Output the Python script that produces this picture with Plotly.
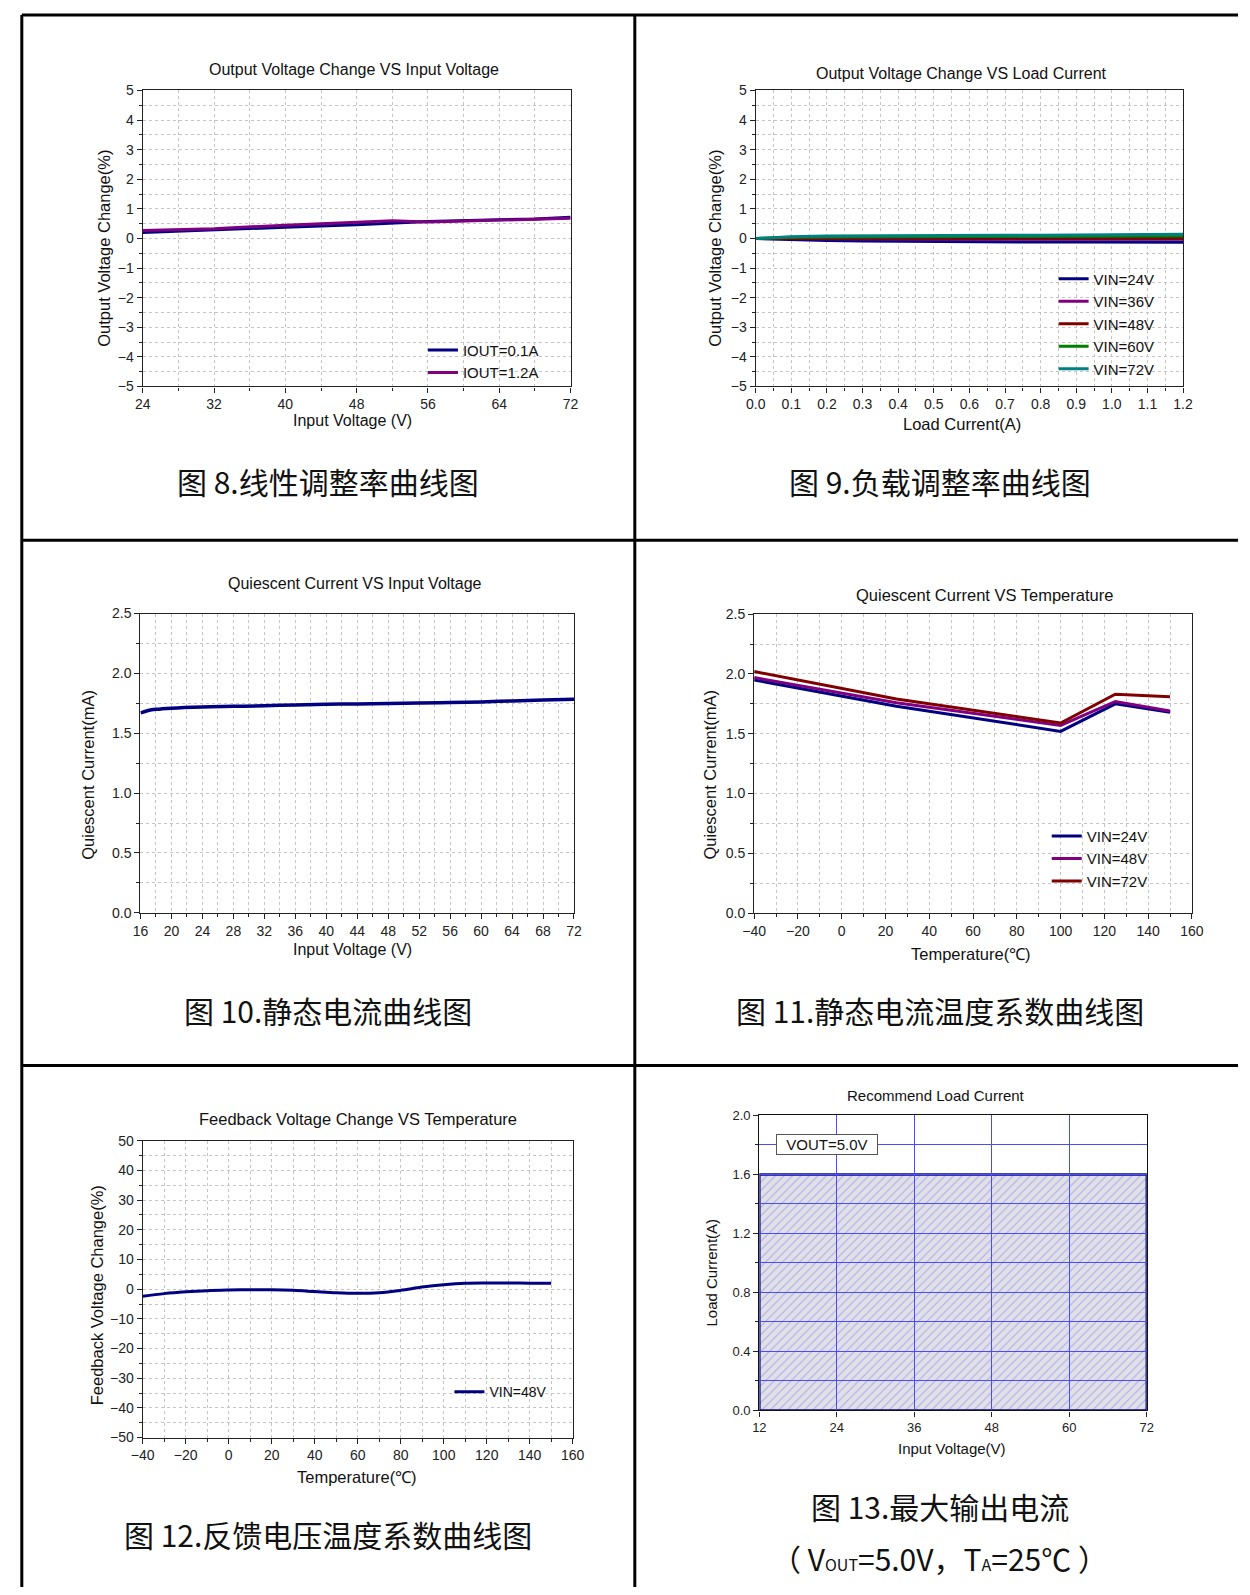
import plotly.graph_objects as go

W, H = 1250, 1595

# ---------------- data ----------------
# Fig 8: line regulation
vin_line = [24, 32, 40, 48, 52, 56, 64, 68, 72]
line_iout_01 = [0.20, 0.30, 0.38, 0.46, 0.52, 0.57, 0.63, 0.66, 0.72]
line_iout_12 = [0.27, 0.33, 0.45, 0.55, 0.60, 0.56, 0.63, 0.64, 0.68]

# Fig 9: load regulation
load_a = [0, 0.1, 0.2, 0.3, 0.4, 0.5, 0.6, 0.7, 0.8, 0.9, 1.0, 1.1, 1.2]
load_vin24 = [0, -0.04, -0.07, -0.09, -0.10, -0.11, -0.12, -0.12, -0.12, -0.12, -0.12, -0.12, -0.13]
load_vin36 = [0, -0.01, -0.02, -0.03, -0.03, -0.03, -0.03, -0.03, -0.03, -0.03, -0.03, -0.03, -0.03]
load_vin48 = [0, 0.00, 0.00, 0.01, 0.01, 0.01, 0.01, 0.01, 0.01, 0.01, 0.01, 0.01, 0.01]
load_vin60 = [0, 0.04, 0.05, 0.06, 0.06, 0.06, 0.07, 0.07, 0.07, 0.07, 0.08, 0.08, 0.08]
load_vin72 = [0, 0.06, 0.08, 0.09, 0.10, 0.10, 0.10, 0.11, 0.11, 0.12, 0.12, 0.13, 0.14]

# Fig 10: quiescent current vs input voltage
vin_iq = [16, 17, 18, 20, 24, 28, 32, 36, 40, 44, 48, 52, 56, 60, 64, 68, 72]
iq_vin = [1.67, 1.69, 1.70, 1.71, 1.72, 1.725, 1.73, 1.737, 1.742, 1.745, 1.749, 1.752, 1.757, 1.762, 1.77, 1.777, 1.785]

# Fig 11: quiescent current vs temperature
temp_iq = [-40, 25, 100, 125, 150]
iq_t_vin24 = [1.95, 1.73, 1.52, 1.75, 1.68]
iq_t_vin48 = [1.97, 1.76, 1.57, 1.77, 1.69]
iq_t_vin72 = [2.02, 1.79, 1.59, 1.83, 1.81]

# Fig 12: feedback voltage vs temperature
temp_fb = [-40, -30, -20, -10, 0, 10, 20, 30, 40, 50, 60, 70, 80, 90, 100, 110, 120, 130, 140, 150]
fb_vin48 = [-2.4, -1.5, -0.9, -0.5, -0.3, -0.2, -0.2, -0.4, -0.8, -1.2, -1.4, -1.2, -0.4, 0.7, 1.5, 2.0, 2.1, 2.1, 2.0, 2.0]

# Fig 13: recommended load current
rec_vin = [12, 72]
rec_iout_max = 1.6

NAVY = "#000080"
PURPLE = "#800080"
DRED = "#800000"
GREEN = "#008000"
TEAL = "#008080"

FONT = "Liberation Sans, Arial, sans-serif"
CJK = "Noto Sans CJK SC, sans-serif"


def px(x):
    return x / W


def py(y):
    return 1 - y / H


fig = go.Figure()

# ---------- traces ----------
fig.add_trace(go.Scatter(x=vin_line, y=line_iout_01, mode="lines", name="IOUT=0.1A",
                         line=dict(color=NAVY, width=3), xaxis="x", yaxis="y", legend="legend"))
fig.add_trace(go.Scatter(x=vin_line, y=line_iout_12, mode="lines", name="IOUT=1.2A",
                         line=dict(color=PURPLE, width=3), xaxis="x", yaxis="y", legend="legend"))

for name, ys, c in [("VIN=24V", load_vin24, NAVY), ("VIN=36V", load_vin36, PURPLE),
                    ("VIN=48V", load_vin48, DRED), ("VIN=60V", load_vin60, GREEN),
                    ("VIN=72V", load_vin72, TEAL)]:
    fig.add_trace(go.Scatter(x=load_a, y=ys, mode="lines", name=name,
                             line=dict(color=c, width=3), xaxis="x2", yaxis="y2", legend="legend2"))

fig.add_trace(go.Scatter(x=vin_iq, y=iq_vin, mode="lines", line=dict(color=NAVY, width=3.5, shape="spline"),
                         showlegend=False, xaxis="x3", yaxis="y3"))

for name, ys, c in [("VIN=24V", iq_t_vin24, NAVY), ("VIN=48V", iq_t_vin48, PURPLE),
                    ("VIN=72V", iq_t_vin72, DRED)]:
    fig.add_trace(go.Scatter(x=temp_iq, y=ys, mode="lines", name=name,
                             line=dict(color=c, width=3), xaxis="x4", yaxis="y4", legend="legend3"))

fig.add_trace(go.Scatter(x=temp_fb, y=fb_vin48, mode="lines", name="VIN=48V",
                         line=dict(color=NAVY, width=3, shape="spline"), xaxis="x5", yaxis="y5",
                         legend="legend4"))

poly_x = [rec_vin[0], rec_vin[0], rec_vin[1], rec_vin[1], rec_vin[0]]
poly_y = [0, rec_iout_max, rec_iout_max, 0, 0]
fig.add_trace(go.Scatter(x=poly_x, y=poly_y, mode="lines", fill="toself",
                         fillcolor="rgba(222,222,230,1)",
                         fillpattern=dict(shape="/", fgcolor="#7272f2",
                                          bgcolor="#e0e0e6", size=6, solidity=0.17),
                         line=dict(color="#0a0a80", width=2.5), showlegend=False,
                         xaxis="x6", yaxis="y6"))
# empty carrier so the grid-only overlay subplot (drawn above the hatch) exists
fig.add_trace(go.Scatter(x=[], y=[], mode="lines", showlegend=False, hoverinfo="skip",
                         xaxis="x7", yaxis="y7"))

# ---------- axes ----------
GRID = "#c4c4c4"


def ax(domain, rng, dtick, minor_dtick, anchor, tick0=None, fmt=None, grid=True):
    d = dict(domain=domain, range=rng, dtick=dtick, anchor=anchor,
             showline=True, linecolor="#222", linewidth=1.3, mirror=True,
             ticks="outside", ticklen=5, tickcolor="#222", tickwidth=1,
             tickfont=dict(family=FONT, size=14, color="#222"),
             showgrid=grid, gridcolor=GRID, griddash="dot", gridwidth=1,
             zeroline=False, fixedrange=True)
    if tick0 is not None:
        d["tick0"] = tick0
    if fmt:
        d["tickformat"] = fmt
    if minor_dtick:
        d["minor"] = dict(dtick=minor_dtick, ticks="outside", ticklen=3, tickcolor="#222",
                          showgrid=grid, gridcolor=GRID, griddash="dot", gridwidth=1)
    return d


dom = {
    1: ([px(133.3), px(569.5)], [py(382.3), py(83.3)]),
    2: ([px(758.3), px(1194)], [py(382.3), py(83.3)]),
    3: ([px(131), px(573)], [py(914), py(611.7)]),
    4: ([px(756.7), px(1203)], [py(914.3), py(612.3)]),
    5: ([px(133.3), px(571.7)], [py(1444), py(1144.3)]),
    6: ([px(762), px(1157)], [py(1416.7), py(1118.7)]),
}

layout_axes = dict(
    xaxis=ax(dom[1][0], [24, 72], 8, 4, "y", tick0=24),
    yaxis=ax(dom[1][1], [-5, 5], 1, 0.5, "x"),
    xaxis2=ax(dom[2][0], [0, 1.2], 0.1, 0.05, "y2", fmt=".1f"),
    yaxis2=ax(dom[2][1], [-5, 5], 1, 0.5, "x2"),
    xaxis3=ax(dom[3][0], [16, 72], 4, 2, "y3", tick0=16),
    yaxis3=ax(dom[3][1], [0, 2.5], 0.5, 0.25, "x3", fmt=".1f"),
    xaxis4=ax(dom[4][0], [-40, 160], 20, 10, "y4"),
    yaxis4=ax(dom[4][1], [0, 2.5], 0.5, 0.25, "x4", fmt=".1f"),
    xaxis5=ax(dom[5][0], [-40, 160], 20, 10, "y5"),
    yaxis5=ax(dom[5][1], [-50, 50], 10, 5, "x5"),
    xaxis6=ax(dom[6][0], [12, 72], 12, None, "y6", tick0=12, grid=False),
    yaxis6=ax(dom[6][1], [0, 2.0], 0.4, 0.2, "x6", fmt=".1f", grid=False),
    # grid-only overlay for fig 13 (blue solid grid drawn above the hatched area)
    xaxis7=dict(domain=dom[6][0], range=[12, 72], dtick=12, tick0=12, anchor="y7",
                showgrid=True, gridcolor="#4a4aff", gridwidth=1.2, showticklabels=False,
                showline=False, ticks="", zeroline=False, fixedrange=True),
    yaxis7=dict(domain=dom[6][1], range=[0, 2.0], dtick=0.2, anchor="x7",
                showgrid=True, gridcolor="#4a4aff", gridwidth=1.2, showticklabels=False,
                showline=False, ticks="", zeroline=False, fixedrange=True),
)
for k in ("xaxis6", "yaxis6"):
    layout_axes[k]["tickfont"] = dict(family=FONT, size=13, color="#222")
    layout_axes[k]["linecolor"] = "#111"
    layout_axes[k]["layer"] = "above traces"


def leg(x, y, size=15):
    return dict(x=px(x), y=py(y), xanchor="left", yanchor="top", bgcolor="rgba(0,0,0,0)",
                font=dict(family=FONT, size=size, color="#111"), tracegroupgap=0,
                itemwidth=30, borderwidth=0)


# ---------- annotations ----------
ann = []


def text(s, x, y, size, family=FONT, angle=0, color="#111", xanchor="center"):
    ann.append(dict(text=s, x=px(x), y=py(y), xref="paper", yref="paper", showarrow=False,
                    xanchor=xanchor, yanchor="middle", textangle=angle,
                    font=dict(family=family, size=size, color=color)))


# chart titles
text("Output Voltage Change VS Input Voltage", 349, 61.7, 16)
text("Output Voltage Change VS Load Current", 968, 66, 16)
text("Quiescent Current VS Input Voltage", 350, 581.7, 16)
text("Quiescent Current VS Temperature", 991.7, 592.7, 16.5)
text("Feedback Voltage Change VS Temperature", 353, 1122, 16.5)
text("Recommend Load Current", 942, 1099, 15)

# x-axis titles
text("Input Voltage (V)", 347, 417, 16)
text("Load Current(A)", 969, 420, 16.5)
text("Input Voltage (V)", 347, 951, 16)
text("Temperature(℃)", 978, 956, 16.5)
text("Temperature(℃)", 352, 1484, 16.5)
text("Input Voltage(V)", 958, 1455, 15)

# y-axis titles
text("Output Voltage Change(%)", 93, 243, 16.5, angle=-90)
text("Output Voltage Change(%)", 716, 243, 16.5, angle=-90)
text("Quiescent Current(mA)", 78, 775, 16.5, angle=-90)
text("Quiescent Current(mA)", 712, 774, 16.5, angle=-90)
text("Feedback Voltage Change(%)", 87, 1300, 16.5, angle=-90)
text("Load Current(A)", 713, 1277, 15, angle=-90)

# captions
text("图 8.线性调整率曲线图", 322, 478, 30, family=CJK)
text("图 9.负载调整率曲线图", 946, 478, 30, family=CJK)
text("图 10.静态电流曲线图", 322, 1012, 30, family=CJK)
text("图 11.静态电流温度系数曲线图", 946, 1012, 30, family=CJK)
text("图 12.反馈电压温度系数曲线图", 322, 1541, 30, family=CJK)
text("图 13.最大输出电流", 946, 1513, 30, family=CJK)
text("（ V<span style=\"font-size:16px\">OUT</span>=5.0V，T<span style=\"font-size:16px\">A</span>=25℃ ）",
     946, 1566, 30, family=CJK)

# VOUT box in fig 13
ann.append(dict(text="VOUT=5.0V", x=22.5, y=1.8, xref="x6", yref="y6", showarrow=False,
                xanchor="center", yanchor="middle", bgcolor="white", bordercolor="#555",
                borderwidth=1, borderpad=1, width=98,
                font=dict(family=FONT, size=15, color="#111")))

# ---------- table borders ----------
shapes = []
BW = 3


def pline(x0, y0, x1, y1):
    shapes.append(dict(type="line", xref="paper", yref="paper", x0=px(x0), y0=py(y0),
                       x1=px(x1), y1=py(y1), line=dict(color="black", width=BW)))


pline(10, 7, 1250, 7)
pline(10, 7, 10, 1595)
pline(635, 7, 635, 1595)
pline(10, 537.7, 1250, 537.7)
pline(10, 1068.3, 1250, 1068.3)

fig.update_layout(
    width=W, height=H, autosize=False,
    margin=dict(l=0, r=0, t=0, b=0),
    paper_bgcolor="white", plot_bgcolor="rgba(0,0,0,0)",
    font=dict(family=FONT, size=14, color="#111"),
    annotations=ann, shapes=shapes,
    legend=leg(419, 329),
    legend2=leg(1062, 257),
    legend3=leg(1055, 820),
    legend4=leg(446, 1382, size=14),
    **layout_axes,
)

fig.write_html("out.html", config={"responsive": False, "displayModeBar": False},
               post_script="document.body.style.margin='0';document.body.style.overflow='hidden';")
